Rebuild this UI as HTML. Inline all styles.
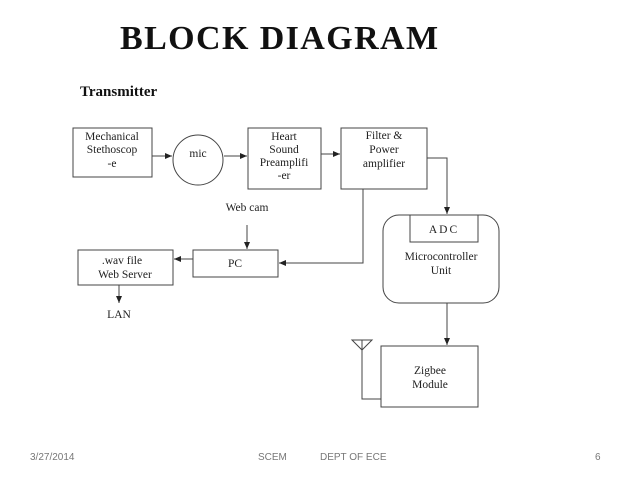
<!DOCTYPE html>
<html><head><style>
body{margin:0;width:638px;height:479px;background:#fff;overflow:hidden;position:relative}
.t{position:absolute;font-family:"Liberation Serif",serif;font-weight:bold;color:#111}
.f{position:absolute;font-family:"Liberation Sans",sans-serif;font-size:10px;color:#777;top:452px}
</style></head><body>
<div class="t" style="left:120px;top:20px;font-size:34px;letter-spacing:1.4px">BLOCK DIAGRAM</div>
<div class="t" style="left:80px;top:84px;font-size:15px">Transmitter</div>
<svg width="638" height="479" style="position:absolute;left:0;top:0" font-family="Liberation Serif, serif" font-size="11.5" fill="none" stroke="#444" stroke-width="1">
<defs><marker id="a" markerWidth="8" markerHeight="8" refX="7" refY="4" orient="auto" markerUnits="userSpaceOnUse"><path d="M0,1 L7,4 L0,7z" fill="#222" stroke="none"/></marker></defs>
<rect x="73" y="128" width="79" height="49"/>
<circle cx="198" cy="160" r="25"/>
<rect x="248" y="128" width="73" height="61"/>
<rect x="341" y="128" width="86" height="61"/>
<rect x="193" y="250" width="85" height="27"/>
<rect x="78" y="250" width="95" height="35"/>
<rect x="383" y="215" width="116" height="88" rx="16"/>
<rect x="410" y="215" width="68" height="27"/>
<rect x="381" y="346" width="97" height="61"/>
<g marker-end="url(#a)">
<line x1="152" y1="156" x2="172" y2="156"/>
<line x1="224" y1="156" x2="247" y2="156"/>
<line x1="321" y1="154" x2="340" y2="154"/>
<polyline points="427,158 447,158 447,214"/>
<line x1="247" y1="225" x2="247" y2="249"/>
<polyline points="363,189 363,263 279,263"/>
<line x1="193" y1="259" x2="174" y2="259"/>
<line x1="119" y1="285" x2="119" y2="303"/>
<line x1="447" y1="303" x2="447" y2="345"/>
</g>
<polyline points="362,350 362,399 381,399"/>
<path d="M352,340 L372,340 L362,350z M362,340 L362,350"/>
<g fill="#222" stroke="none" text-anchor="middle">
<text x="112" y="140">Mechanical</text><text x="112" y="153">Stethoscop</text><text x="112" y="167">-e</text>
<text x="198" y="157">mic</text>
<text x="284" y="140">Heart</text><text x="284" y="153">Sound</text><text x="284" y="166">Preamplifi</text><text x="284" y="179">-er</text>
<text x="384" y="139">Filter &amp;</text><text x="384" y="153">Power</text><text x="384" y="167">amplifier</text>
<text x="247" y="211">Web cam</text>
<text x="235" y="267">PC</text>
<text x="122" y="264">.wav file</text><text x="125" y="278">Web Server</text>
<text x="119" y="318">LAN</text>
<text x="444" y="233" letter-spacing="2">ADC</text>
<text x="441" y="260">Microcontroller</text><text x="441" y="274">Unit</text>
<text x="430" y="374">Zigbee</text><text x="430" y="388">Module</text>
</g>
</svg>
<div class="f" style="left:30px">3/27/2014</div>
<div class="f" style="left:258px">SCEM</div>
<div class="f" style="left:320px">DEPT OF ECE</div>
<div class="f" style="left:595px">6</div>
</body></html>
